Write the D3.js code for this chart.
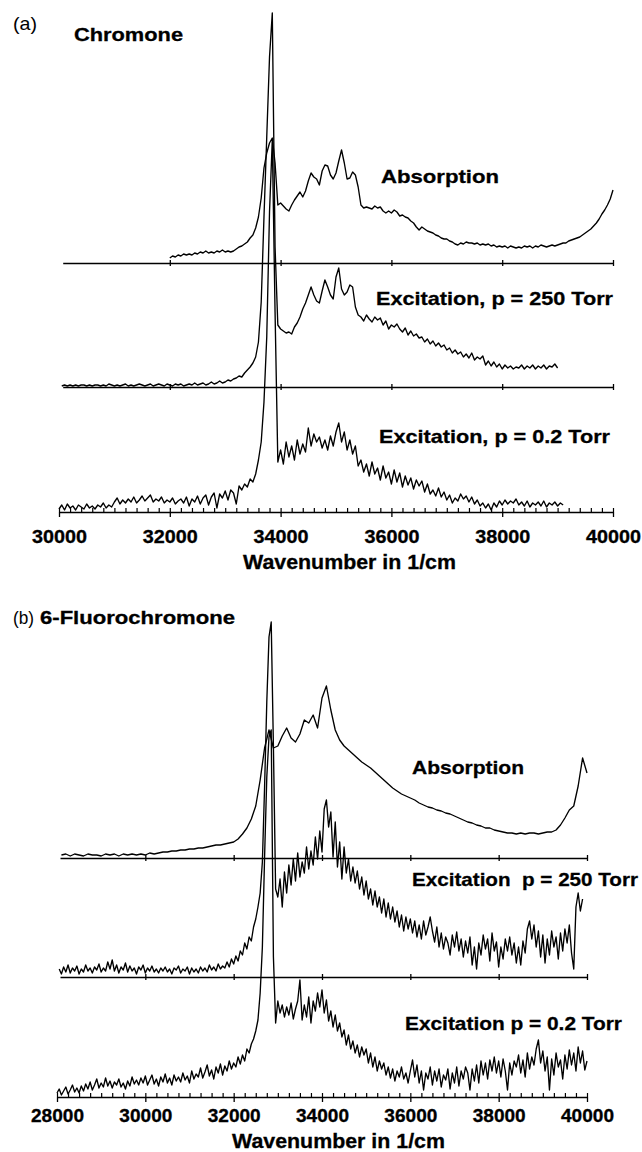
<!DOCTYPE html>
<html>
<head>
<meta charset="utf-8">
<script src="https://cdn.jsdelivr.net/npm/d3@7"></script>
<style>
  body { margin: 0; background: #fff; }
  svg { display: block; }
  text { font-family: "Liberation Sans", Arial, Helvetica, sans-serif; fill: #000; }
</style>
</head>
<body>
<div id="chart"></div>
<script>
// ---- data (intensity, arbitrary units) ----

// (a) Chromone, absorption: 32000..40000 cm-1, every 50
const chromoneAbsStart = 32000;
const chromoneAbs = [
  5, 7, 6, 8, 7, 9, 8, 9, 8, 10,
  9, 11, 10, 12, 10, 11, 10, 12, 11, 13,
  11, 12, 11, 12, 14, 16, 17, 19, 21, 25,
  28, 35, 46, 65, 95, 110, 120, 125, 100, 58,
  60, 57, 54, 52, 58, 63, 67, 71, 66, 72,
  82, 90, 86, 84, 78, 92, 98, 97, 88, 84,
  90, 102, 113, 100, 84, 85, 91, 88, 76, 58,
  55, 56, 55, 54, 57, 55, 56, 52, 50, 52,
  50, 53, 51, 47, 48, 46, 45, 42, 40, 36,
  33, 36, 34, 32, 31, 30, 28, 27, 25, 24,
  24, 22, 21, 19, 18, 20, 19, 21, 20, 20,
  19, 20, 18, 19, 18, 19, 17, 18, 16, 17,
  16, 17, 15, 17, 16, 15, 16, 15, 17, 16,
  17, 15, 17, 16, 18, 17, 16, 17, 18, 17,
  18, 19, 20, 20, 22, 23, 24, 25, 26, 28,
  30, 32, 34, 37, 40, 44, 49, 53, 58, 64,
  73
];

// (a) Chromone, excitation p = 250 Torr: 30050..39000, every 50
const chromoneExc250Start = 30050;
const chromoneExc250 = [
  1, 2, 1, 2, 1, 2, 1, 2, 2, 1,
  2, 1, 2, 2, 1, 2, 1, 3, 2, 1,
  2, 1, 2, 3, 1, 2, 1, 2, 3, 2,
  1, 2, 3, 1, 2, 3, 2, 1, 3, 2,
  1, 3, 2, 3, 1, 2, 3, 2, 4, 2,
  3, 4, 2, 3, 5, 3, 4, 6, 4, 5,
  7, 6, 8, 9, 11, 10, 14, 17, 20, 24,
  30, 45, 85, 170, 250, 330, 374, 140, 62, 58,
  56, 54, 55, 53, 60, 64, 70, 78, 84, 92,
  100, 92, 86, 84, 96, 107, 100, 92, 88, 110,
  119, 98, 92, 95, 102, 100, 80, 72, 70, 66,
  72, 68, 65, 70, 67, 69, 62, 66, 58, 62,
  60, 63, 58, 55, 59, 52, 56, 51, 53, 49,
  50, 45, 48, 43, 46, 41, 44, 40, 42, 37,
  39, 34, 37, 33, 35, 30, 33, 29, 34, 27,
  30, 28, 31, 22, 26, 21, 25, 20, 23, 18,
  22, 19, 21, 18, 20, 19, 22, 18, 21, 19,
  22, 18, 21, 19, 22, 18, 21, 20, 23, 19
];

// (a) Chromone, excitation p = 0.2 Torr: 30000..39100, every 50
const chromoneExc02Start = 30000;
const chromoneExc02 = [
  3, 7, 2, 8, 4, 6, 2, 7, 5, 3,
  8, 4, 6, 3, 7, 5, 9, 4, 7, 5,
  10, 14, 8, 12, 9, 13, 10, 15, 9, 12,
  16, 11, 14, 17, 10, 13, 11, 15, 9, 12,
  10, 14, 8, 11, 13, 9, 15, 6, 13, 10,
  16, 8, 14, 17, 7, 15, 19, 4, 18, 14,
  21, 12, 22, 19, 8, 26, 22, 28, 25, 33,
  30, 38, 52, 70, 110, 175, 300, 372, 200, 50,
  62, 48, 70, 55, 66, 52, 72, 58, 68, 60,
  84, 66, 78, 70, 75, 64, 72, 62, 76, 66,
  80, 89, 70, 80, 62, 72, 58, 66, 46, 52,
  40, 48, 36, 50, 38, 44, 32, 46, 34, 40,
  28, 42, 30, 39, 25, 36, 27, 34, 23, 32,
  26, 31, 20, 28, 18, 22, 16, 24, 15, 20,
  12, 17, 9, 14, 11, 18, 13, 16, 10, 15,
  8, 12, 6, 9, 4, 8, 2, 9, 5, 11,
  7, 12, 8, 11, 9, 13, 7, 10, 6, 11,
  5, 9, 7, 10, 6, 11, 5, 9, 7, 10,
  6, 9, 7
];

// (b) 6-Fluorochromone, absorption: 28100..40000, every 100
const fluoroAbsStart = 28100;
const fluoroAbs = [
  3, 4, 2, 4, 3, 2, 4, 3, 3, 2,
  4, 3, 4, 2, 4, 3, 4, 3, 4, 3,
  5, 4, 5, 6, 6, 7, 7, 8, 8, 9,
  9, 10, 10, 11, 12, 13, 13, 14, 15, 16,
  19, 24, 30, 39, 52, 78, 110, 128, 110, 112,
  122, 130, 120, 116, 124, 138, 135, 143, 130, 160,
  172, 148, 128, 118, 112, 108, 104, 100, 96, 93,
  90, 86, 82, 78, 74, 70, 67, 64, 62, 60,
  58, 55, 53, 51, 50, 48, 47, 45, 44, 42,
  40, 38, 36, 35, 33, 32, 30, 30, 28, 27,
  26, 25, 25, 24, 25, 24, 25, 25, 24, 25,
  26, 26, 28, 33, 40, 48, 52, 72, 100, 85
];

// (b) 6-Fluorochromone, excitation p = 250 Torr: 28050..39900, every 50
const fluoroExc250Start = 28050;
const fluoroExc250 = [
  8, 3, 10, 5, 12, 4, 9, 6, 11, 3,
  8, 5, 12, 6, 9, 4, 10, 7, 13, 5,
  9, 6, 15, 8, 17, 6, 12, 4, 10, 7,
  14, 5, 11, 6, 9, 3, 10, 7, 12, 4,
  9, 6, 11, 5, 8, 4, 9, 6, 10, 5,
  8, 3, 9, 7, 11, 4, 8, 6, 10, 3,
  9, 5, 8, 4, 10, 6, 9, 5, 12, 7,
  10, 6, 13, 8, 11, 9, 15, 10, 18, 13,
  21, 16, 26, 22, 34, 28, 40, 36, 50, 58,
  70, 84, 115, 190, 275, 340, 355, 230, 88, 80,
  98, 70, 105, 84, 112, 92, 118, 96, 124, 100,
  115, 104, 130, 108, 126, 112, 140, 118, 146, 125,
  168, 177, 150, 165, 120, 155, 110, 135, 98, 130,
  104, 118, 96, 110, 94, 106, 88, 100, 82, 96,
  78, 88, 72, 86, 70, 80, 64, 78, 60, 74,
  58, 70, 55, 66, 50, 62, 46, 60, 48, 58,
  44, 56, 40, 52, 38, 56, 42, 50, 60, 46,
  35, 50, 30, 44, 28, 40, 34, 22, 42, 30,
  45, 26, 38, 20, 36, 24, 40, 12, 30, 8,
  34, 22, 42, 28, 38, 16, 44, 26, 35, 10,
  30, 18, 38, 26, 40, 22, 34, 14, 30, 12,
  36, 24, 48, 56, 38, 52, 30, 46, 20, 42,
  14, 38, 22, 46, 30, 40, 18, 44, 26, 48,
  34, 52, 24, 8, 70, 84, 66, 78
];

// (b) 6-Fluorochromone, excitation p = 0.2 Torr: 28000..40000, every 50
const fluoroExc02Start = 28000;
const fluoroExc02 = [
  4, 8, 2, 6, 10, 3, 7, 12, 5, 9,
  4, 11, 6, 13, 8, 15, 7, 12, 18, 9,
  14, 10, 19, 11, 16, 9, 15, 12, 18, 10,
  14, 8, 16, 11, 20, 13, 17, 12, 19, 14,
  21, 12, 17, 22, 13, 18, 11, 20, 15, 23,
  14, 19, 12, 22, 16, 20, 15, 24, 17, 21,
  14, 26, 18, 23, 20, 29, 19, 25, 32, 21,
  27, 18, 30, 24, 33, 22, 31, 26, 36, 28,
  34, 30, 40, 33, 42, 36, 48, 44, 53, 58,
  66, 77, 104, 150, 240, 320, 360, 367, 140, 74,
  96, 84, 92, 80, 90, 82, 94, 78, 88, 96,
  117, 77, 92, 80, 100, 74, 96, 86, 104, 90,
  107, 84, 97, 76, 86, 70, 82, 66, 74, 60,
  67, 52, 62, 48, 56, 44, 52, 40, 50, 42,
  48, 34, 44, 30, 40, 26, 36, 28, 34, 22,
  30, 19, 28, 16, 26, 20, 30, 18, 24, 14,
  26, 37, 20, 32, 14, 26, 7, 24, 18, 30,
  12, 26, 16, 28, 10, 22, 17, 28, 8, 24,
  14, 30, 11, 26, 18, 30, 24, 7, 28, 16,
  32, 14, 36, 22, 34, 18, 37, 26, 40, 24,
  36, 20, 38, 26, 7, 34, 22, 36, 30, 42,
  24, 37, 20, 44, 28, 40, 32, 48, 57, 34,
  46, 26, 40, 7, 38, 22, 44, 30, 37, 18,
  42, 28, 47, 32, 44, 26, 50, 34, 46, 27,
  36
];

const tickLabelsA = [30000, 32000, 34000, 36000, 38000, 40000];
const tickLabelsB = [28000, 30000, 32000, 34000, 36000, 38000, 40000];

// ---- layout ----
const W = 642, H = 1152;
const svg = d3.select('#chart').append('svg')
  .attr('width', W)
  .attr('height', H);

function toPoints(start, step, values) {
  return values.map((v, i) => ({ w: start + i * step, v }));
}

const panels = [
  {
    xDomain: [30000, 40000], xRange: [59, 613], yRange: [512, 12],
    majors: tickLabelsA, minorStep: 200, labelLen: 55, labelY: 31,
    baseStart: 30067,
    traces: [
      { pts: toPoints(chromoneAbsStart, 50, chromoneAbs), offset: 249 },
      { pts: toPoints(chromoneExc250Start, 50, chromoneExc250), offset: 125 },
      { pts: toPoints(chromoneExc02Start, 50, chromoneExc02), offset: 0 }
    ],
    baselines: [249, 125],
    texts: [
      { t: '(a)', x: 13, y: 30, size: 19, bold: false, len: 24 },
      { t: 'Chromone', x: 74, y: 41, size: 19, len: 109 },
      { t: 'Absorption', x: 381, y: 183, size: 19, len: 118 },
      { t: 'Excitation, p = 250 Torr', x: 376, y: 305, size: 19, len: 237 },
      { t: 'Excitation, p = 0.2 Torr', x: 379, y: 443, size: 19, len: 231 },
      { t: 'Wavenumber in 1/cm', x: 243, y: 569, size: 20, len: 213 }
    ]
  },
  {
    xDomain: [28000, 40000], xRange: [57, 587], yRange: [1097, 597],
    majors: tickLabelsB, minorStep: 250, labelLen: 53, labelY: 25,
    baseStart: 28068,
    traces: [
      { pts: toPoints(fluoroAbsStart, 100, fluoroAbs), offset: 239 },
      { pts: toPoints(fluoroExc250Start, 50, fluoroExc250), offset: 120 },
      { pts: toPoints(fluoroExc02Start, 50, fluoroExc02), offset: 0 }
    ],
    baselines: [239, 120],
    texts: [
      { t: '(b)', x: 13, y: 624, size: 19, bold: false, len: 21 },
      { t: '6-Fluorochromone', x: 40, y: 624, size: 18, len: 195 },
      { t: 'Absorption', x: 412, y: 774, size: 19, len: 112 },
      { t: 'Excitation  p = 250 Torr', x: 412, y: 886, size: 19, len: 226 },
      { t: 'Excitation p = 0.2 Torr', x: 405, y: 1030, size: 19, len: 217 },
      { t: 'Wavenumber in 1/cm', x: 232, y: 1148, size: 20, len: 213 }
    ]
  }
];

panels.forEach(p => {
  const x = d3.scaleLinear().domain(p.xDomain).range(p.xRange);
  const y = d3.scaleLinear().domain([0, 500]).range(p.yRange);
  const g = svg.append('g');

  // offset baselines with crossing ticks
  p.baselines.forEach(off => {
    const xs = x.copy().domain([p.baseStart, p.xDomain[1]]).range([x(p.baseStart), x(p.xDomain[1])]);
    const ticks = p.majors.filter(t => t >= p.baseStart);
    [d3.axisBottom(xs), d3.axisTop(xs)].forEach((ax, k) => {
      const a = g.append('g')
        .attr('transform', `translate(0,${y(off)})`)
        .call(ax.tickValues(ticks).tickSize(3).tickSizeOuter(0).tickFormat(''));
      if (k === 1) a.select('.domain').remove();
      a.select('.domain').attr('stroke', '#000').attr('stroke-width', 1.7);
      a.selectAll('.tick line').attr('stroke', '#000').attr('stroke-width', 1.3);
    });
  });

  // bottom axis: major ticks + labels, minor ticks pointing up
  const axisY = y(0);
  const minors = d3.range(p.xDomain[0], p.xDomain[1] + 1, p.minorStep);
  const top = g.append('g')
    .attr('transform', `translate(0,${axisY})`)
    .call(d3.axisTop(x).tickValues(minors).tickSize(4).tickSizeOuter(0).tickFormat(''));
  top.select('.domain').remove();
  top.selectAll('.tick line').attr('stroke', '#000').attr('stroke-width', 1.2);

  const bottom = g.append('g')
    .attr('transform', `translate(0,${axisY})`)
    .call(d3.axisBottom(x).tickValues(p.majors).tickSize(5).tickSizeOuter(0).tickFormat(d3.format('d')));
  bottom.select('.domain').attr('stroke', '#000').attr('stroke-width', 1.7);
  bottom.selectAll('.tick line').attr('stroke', '#000').attr('stroke-width', 1.3);
  bottom.selectAll('.tick text')
    .attr('y', p.labelY).attr('dy', 0)
    .attr('fill', '#000')
    .attr('stroke', '#000')
    .attr('stroke-width', 0.3)
    .style('font-family', '"Liberation Sans", Arial, sans-serif')
    .style('font-size', '18px')
    .style('font-weight', 'bold')
    .attr('textLength', p.labelLen)
    .attr('lengthAdjust', 'spacingAndGlyphs');

  // spectra
  const line = d3.line().x(d => x(d.w));
  p.traces.forEach(tr => {
    g.append('path')
      .datum(tr.pts)
      .attr('fill', 'none')
      .attr('stroke', '#000')
      .attr('stroke-width', 1.35)
      .attr('stroke-linejoin', 'round')
      .attr('d', line.y(d => y(d.v + tr.offset)));
  });

  // labels
  p.texts.forEach(t => {
    const bold = t.bold !== false;
    const el = g.append('text')
      .attr('x', t.x)
      .attr('y', t.y)
      .style('font-size', t.size + 'px')
      .style('font-weight', bold ? 'bold' : 'normal')
      .style('white-space', 'pre')
      .text(t.t);
    if (bold) el.attr('stroke', '#000').attr('stroke-width', 0.3);
    if (t.len) el.attr('textLength', t.len).attr('lengthAdjust', 'spacingAndGlyphs');
  });
});
</script>
</body>
</html>
